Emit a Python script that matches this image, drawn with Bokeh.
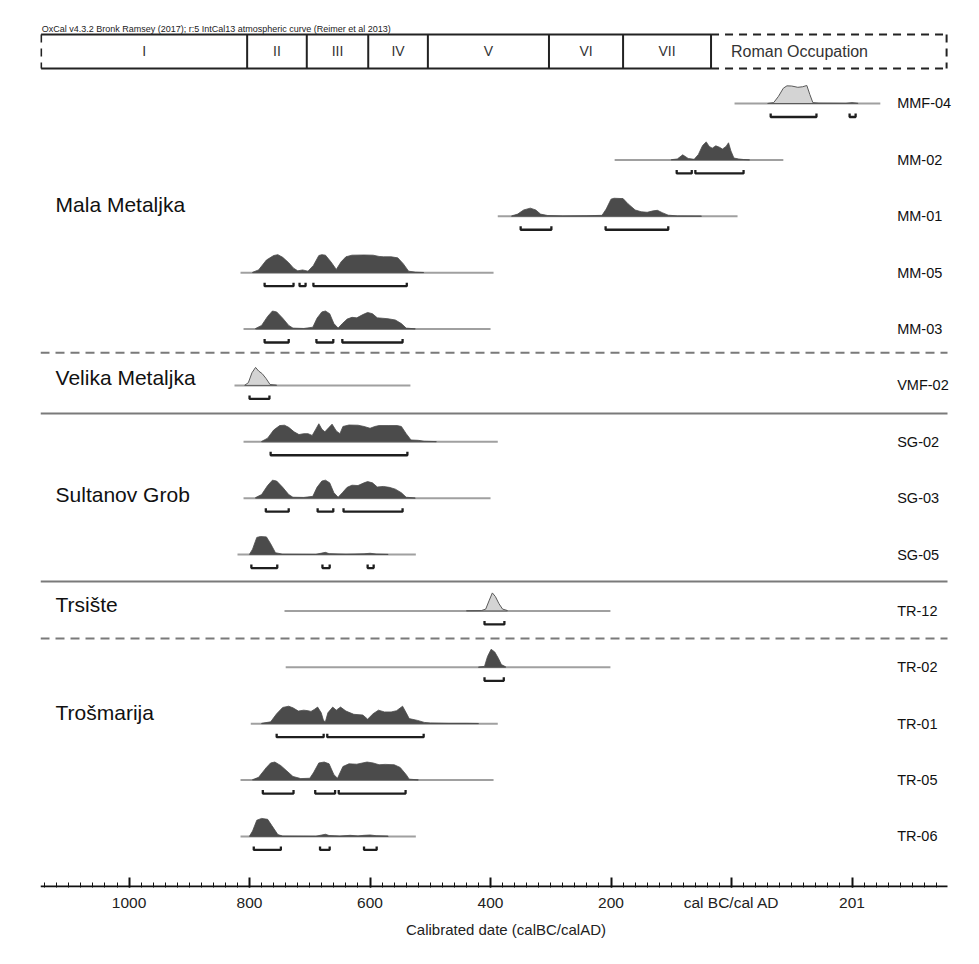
from bokeh.plotting import figure
from bokeh.models import Range1d, LinearAxis, FixedTicker, LabelSet, ColumnDataSource
from bokeh.core.properties import value
from bokeh.embed import file_html
from bokeh.resources import INLINE

# ---------------- data (years: BC negative, AD positive) ----------------
credit = "OxCal v4.3.2 Bronk Ramsey (2017); r:5 IntCal13 atmospheric curve (Reimer et al 2013)"
period_names = ["I", "II", "III", "IV", "V", "VI", "VII", "Roman Occupation"]
period_bounds = [-1146, -804, -705, -603, -504, -303, -180, -34, 357]

tick_years = [-1000, -800, -600, -400, -200, 0, 200]
tick_labels = ["1000", "800", "600", "400", "200", "cal BC/cal AD", "201"]
axis_title = "Calibrated date (calBC/calAD)"

group_names = ["Mala Metaljka", "Velika Metaljka", "Sultanov Grob", "Trsište", "Trošmarija"]

MMF04_span = [5, 247]
MMF04_x = [60, 70, 78, 86, 92, 100, 110, 118, 125, 130, 135, 145, 190, 200, 210]
MMF04_p = [0, 0.05, 0.4, 0.85, 0.98, 0.97, 0.9, 0.93, 1.0, 0.5, 0.05, 0.02, 0.01, 0.05, 0.01]
MMF04_hpd = [[65, 141], [196, 206]]

MM02_span = [-194, 86]
MM02_x = [-100, -90, -81, -72, -62, -55, -48, -42, -37, -32, -26, -20, -15, -9, -5, -1, 4, 12, 20, 30]
MM02_p = [0.01, 0.05, 0.28, 0.08, 0.03, 0.3, 0.8, 1.0, 0.75, 0.65, 0.78, 0.7, 0.6, 0.75, 0.95, 0.5, 0.1, 0.05, 0.02, 0]
MM02_hpd = [[-91, -66], [-60, 20]]

MM01_span = [-388, 10]
MM01_x = [-365, -355, -345, -334, -325, -317, -305, -280, -240, -215, -208, -200, -195, -180, -172, -160, -150, -140, -130, -123, -115, -105, -90, -50]
MM01_p = [0.02, 0.12, 0.35, 0.45, 0.35, 0.12, 0.04, 0.02, 0.03, 0.05, 0.4, 0.95, 1.0, 0.98, 0.7, 0.35, 0.25, 0.22, 0.3, 0.33, 0.2, 0.06, 0.02, 0.01]
MM01_hpd = [[-350, -299], [-209, -105]]

MM05_span = [-815, -395]
MM05_x = [-795, -785, -772, -760, -753, -745, -735, -727, -720, -712, -703, -694, -685, -680, -674, -665, -656, -648, -640, -630, -610, -595, -585, -578, -565, -554, -545, -536, -525, -511]
MM05_p = [0.02, 0.15, 0.7, 0.95, 1.0, 0.85, 0.55, 0.25, 0.1, 0.15, 0.08, 0.4, 0.95, 1.0, 0.97, 0.6, 0.18, 0.6, 0.88, 0.97, 0.98, 0.97, 0.9, 0.88, 0.88, 0.82, 0.5, 0.08, 0.03, 0.01]
MM05_hpd = [[-775, -727], [-717, -707], [-694, -539]]

MM03_span = [-810, -400]
MM03_x = [-790, -780, -770, -762, -755, -745, -735, -728, -710, -695, -688, -680, -674, -667, -660, -653, -646, -638, -630, -622, -612, -604, -596, -588, -580, -570, -558, -548, -540, -525]
MM03_p = [0.03, 0.2, 0.7, 1.0, 0.95, 0.6, 0.2, 0.05, 0.03, 0.1, 0.6, 0.95, 1.0, 0.85, 0.3, 0.05, 0.3, 0.55, 0.65, 0.62, 0.8, 0.92, 0.85, 0.62, 0.6, 0.57, 0.5, 0.3, 0.05, 0.01]
MM03_hpd = [[-775, -735], [-689, -661], [-646, -546]]

VMF02_span = [-825, -533]
VMF02_x = [-808, -802, -796, -790, -785, -779, -773, -766, -755]
VMF02_p = [0.01, 0.15, 0.7, 1.0, 0.8, 0.65, 0.4, 0.05, 0.01]
VMF02_hpd = [[-800, -767]]

SG02_span = [-810, -388]
SG02_x = [-780, -770, -760, -750, -742, -735, -726, -718, -710, -703, -696, -690, -685, -680, -675, -668, -663, -656, -650, -645, -635, -620, -610, -600, -592, -585, -570, -555, -548, -540, -532, -520, -510, -490]
SG02_p = [0.02, 0.2, 0.65, 0.9, 0.92, 0.8, 0.55, 0.4, 0.45, 0.45, 0.35, 0.7, 1.0, 0.7, 0.55, 0.8, 0.98, 0.6, 0.45, 0.85, 0.93, 0.92, 0.85, 0.75, 0.85, 0.9, 0.9, 0.9, 0.85, 0.45, 0.1, 0.08, 0.03, 0.01]
SG02_hpd = [[-765, -538]]

SG03_span = [-810, -400]
SG03_x = [-790, -780, -770, -762, -755, -745, -735, -728, -710, -695, -688, -680, -674, -667, -660, -653, -646, -638, -630, -620, -610, -604, -596, -588, -578, -568, -558, -548, -540, -525]
SG03_p = [0.03, 0.2, 0.7, 1.0, 0.95, 0.6, 0.2, 0.05, 0.04, 0.1, 0.6, 0.95, 1.0, 0.85, 0.3, 0.05, 0.3, 0.6, 0.72, 0.7, 0.85, 0.92, 0.85, 0.62, 0.65, 0.6, 0.5, 0.3, 0.05, 0.01]
SG03_hpd = [[-773, -735], [-687, -661], [-644, -546]]

SG05_span = [-820, -524]
SG05_x = [-800, -795, -788, -782, -772, -765, -757, -745, -690, -680, -674, -668, -640, -610, -600, -590, -570]
SG05_p = [0.02, 0.3, 0.95, 1.0, 0.98, 0.6, 0.1, 0.02, 0.01, 0.08, 0.12, 0.05, 0.02, 0.04, 0.07, 0.03, 0.01]
SG05_hpd = [[-797, -754], [-679, -667], [-604, -594]]

TR12_span = [-742, -201]
TR12_x = [-440, -415, -408, -402, -397, -392, -386, -380, -372]
TR12_p = [0.01, 0.02, 0.1, 0.6, 1.0, 0.8, 0.4, 0.1, 0.02]
TR12_hpd = [[-410, -377]]

TR02_span = [-740, -201]
TR02_x = [-420, -410, -405, -399, -393, -387, -382, -375]
TR02_p = [0.01, 0.05, 0.6, 1.0, 0.85, 0.5, 0.15, 0.03]
TR02_hpd = [[-410, -378]]

TR01_span = [-798, -388]
TR01_x = [-780, -765, -755, -745, -735, -728, -719, -710, -703, -698, -692, -687, -681, -677, -674, -670, -662, -656, -649, -640, -627, -612, -604, -595, -586, -576, -565, -556, -546, -540, -535, -521, -510, -500, -470, -440, -420]
TR01_p = [0.02, 0.1, 0.55, 0.9, 0.97, 0.88, 0.7, 0.75, 0.72, 0.68, 0.8, 0.92, 0.6, 0.15, 0.12, 0.6, 0.92, 0.75, 0.92, 0.7, 0.52, 0.48, 0.25, 0.55, 0.75, 0.65, 0.65, 0.72, 0.97, 0.6, 0.28, 0.18, 0.07, 0.04, 0.02, 0.02, 0.01]
TR01_hpd = [[-755, -677], [-671, -511]]

TR05_span = [-815, -395]
TR05_x = [-795, -785, -772, -765, -758, -748, -738, -728, -715, -700, -694, -685, -676, -668, -660, -654, -645, -635, -622, -605, -595, -585, -575, -560, -550, -540, -535, -520]
TR05_p = [0.02, 0.15, 0.7, 0.95, 1.0, 0.8, 0.5, 0.2, 0.08, 0.1, 0.4, 0.95, 1.0, 0.9, 0.3, 0.1, 0.75, 0.9, 0.88, 1.0, 0.95, 0.85, 0.87, 0.85, 0.7, 0.3, 0.05, 0.01]
TR05_hpd = [[-778, -727], [-691, -658], [-652, -541]]

TR06_span = [-815, -524]
TR06_x = [-800, -795, -788, -780, -770, -763, -753, -745, -690, -680, -674, -668, -650, -633, -620, -610, -600, -590, -570]
TR06_p = [0.02, 0.3, 0.9, 1.0, 0.95, 0.6, 0.1, 0.02, 0.01, 0.08, 0.12, 0.05, 0.02, 0.06, 0.03, 0.06, 0.08, 0.04, 0.02]
TR06_hpd = [[-793, -748], [-683, -667], [-610, -589]]

sample_names = ["MMF-04", "MM-02", "MM-01", "MM-05", "MM-03", "VMF-02", "SG-02", "SG-03",
                "SG-05", "TR-12", "TR-02", "TR-01", "TR-05", "TR-06"]
sample_spans = [MMF04_span, MM02_span, MM01_span, MM05_span, MM03_span, VMF02_span, SG02_span,
                SG03_span, SG05_span, TR12_span, TR02_span, TR01_span, TR05_span, TR06_span]
sample_x = [MMF04_x, MM02_x, MM01_x, MM05_x, MM03_x, VMF02_x, SG02_x, SG03_x, SG05_x,
            TR12_x, TR02_x, TR01_x, TR05_x, TR06_x]
sample_p = [MMF04_p, MM02_p, MM01_p, MM05_p, MM03_p, VMF02_p, SG02_p, SG03_p, SG05_p,
            TR12_p, TR02_p, TR01_p, TR05_p, TR06_p]
sample_hpd = [MMF04_hpd, MM02_hpd, MM01_hpd, MM05_hpd, MM03_hpd, VMF02_hpd, SG02_hpd,
              SG03_hpd, SG05_hpd, TR12_hpd, TR02_hpd, TR01_hpd, TR05_hpd, TR06_hpd]
light_samples = ["MMF-04", "VMF-02", "TR-12"]

# ---------------- layout (row units, 1 row = 56.4 px) ----------------
ROW_PX = 56.38
def px(v):
    return v / ROW_PX

H = px(18)            # peak height
BR = px(13.5)         # bracket offset
BT = px(3.5)          # bracket tip
group_rows = [1.79, 4.86, 6.93, 8.89, 10.8]
separators = [(4.42, "dashed"), (5.5, "solid"), (8.48, "solid"), (9.49, "dashed")]
hdr_top, hdr_bot = -1.224, -0.621
hdr_mid = (hdr_top + hdr_bot) / 2
xmin, xmax = -1147, 358.5          # extent of the time axis
YRS_PER_PX = (xmax - xmin) / 907.0
frame_w = 931
xframe = xmin + frame_w * YRS_PER_PX  # frame extends beyond axis so labels fit
ybot = 13.906
label_x = 275

FONT = "Liberation Sans"

p = figure(width=971, height=956, output_backend="svg", toolbar_location=None,
           x_range=Range1d(xmin, xframe), y_range=Range1d(ybot, -1.685),
           x_axis_location=None, y_axis_location=None,
           min_border_left=40, min_border_right=0, min_border_top=8, min_border_bottom=69)
p.grid.visible = False
p.outline_line_color = None
p.background_fill_color = "white"
p.border_fill_color = "white"

# separators
for yy, style in separators:
    p.line([xmin, xmax], [yy, yy], line_color="#7a7a7a", line_width=2,
           line_dash=("9 6" if style == "dashed" else "solid"))

# header boxes
p.text([xmin + 2], [-1.33], text=[credit], text_font=value(FONT), text_font_size="9px",
       text_baseline="middle", text_align="left", text_color="#222")
lo, hi = period_bounds[0], period_bounds[-2]
p.multi_line([[lo, hi], [lo, hi]], [[hdr_top, hdr_top], [hdr_bot, hdr_bot]], line_color="#222", line_width=2)
p.multi_line([[b, b] for b in period_bounds[1:-1]], [[hdr_top, hdr_bot]] * (len(period_bounds) - 2),
             line_color="#222", line_width=2)
p.line([lo, lo], [hdr_top, hdr_bot], line_color="#222", line_width=2, line_dash="8 6")
r_lo, r_hi = period_bounds[-2], period_bounds[-1]
p.multi_line([[r_lo, r_hi], [r_lo, r_hi], [r_hi, r_hi]],
             [[hdr_top, hdr_top], [hdr_bot, hdr_bot], [hdr_top, hdr_bot]],
             line_color="#222", line_width=2, line_dash="8 6")
mids = [(period_bounds[i] + period_bounds[i + 1]) / 2 for i in range(len(period_names) - 1)]
p.text(mids, [hdr_mid] * len(mids), text=period_names[:-1], text_font=value(FONT),
       text_font_size="14px", text_baseline="middle", text_align="center", text_color="#333")
p.text([r_lo], [hdr_mid], text=[period_names[-1]], text_font=value(FONT), x_offset=20,
       text_font_size="16px", text_baseline="middle", text_align="left", text_color="#333")

# baselines
p.segment(x0=[s[0] for s in sample_spans], x1=[s[1] for s in sample_spans],
          y0=list(range(len(sample_names))), y1=list(range(len(sample_names))),
          line_color="#a0a0a0", line_width=2)

# distributions
for kind in ("dark", "light"):
    xs, ys = [], []
    for i, name in enumerate(sample_names):
        if (name in light_samples) != (kind == "light"):
            continue
        xx = [sample_x[i][0]] + list(sample_x[i]) + [sample_x[i][-1]]
        yv = [i] + [i - v * H for v in sample_p[i]] + [i]
        xs.append(xx)
        ys.append(yv)
    if kind == "dark":
        p.patches(xs, ys, fill_color="#4b4b4b", line_color="#4b4b4b", line_width=0.8)
    else:
        p.patches(xs, ys, fill_color="#d4d4d4", line_color="#5a5a5a", line_width=1)

# HPD brackets
bx, by = [], []
for i, ranges in enumerate(sample_hpd):
    for a, b in ranges:
        bx.append([a, a, b, b])
        by.append([i + BR - BT, i + BR, i + BR, i + BR - BT])
p.multi_line(bx, by, line_color="#1e1e1e", line_width=2.3)

# sample labels
lab_src = ColumnDataSource(dict(x=[label_x] * len(sample_names),
                                y=list(range(len(sample_names))), text=sample_names))
p.add_layout(LabelSet(x="x", y="y", text="text", source=lab_src, level="overlay",
                      text_font=value(FONT), text_font_size=value("14.5px"),
                      text_baseline="middle", text_align="left", text_color="#111"))
p.text([-1122] * len(group_names), group_rows, text=group_names, text_font=value(FONT),
       text_font_size="21px", text_baseline="middle", text_align="left", text_color="#111")

# axis line limited to the time range
p.segment(x0=[xmin], x1=[xmax], y0=[ybot - px(1)], y1=[ybot - px(1)], line_color="#111", line_width=2)

# axis (ticks and labels)
ax = LinearAxis(ticker=FixedTicker(ticks=tick_years, minor_ticks=list(range(-1140, 359, 20))),
                major_label_overrides={t: l for t, l in zip(tick_years, tick_labels)})
ax.axis_label = axis_title
ax.axis_label_text_font = FONT
ax.axis_label_text_font_size = "15px"
ax.axis_label_text_font_style = "normal"
ax.axis_label_text_color = "#222"
ax.axis_label_standoff = 7
ax.major_label_text_font = FONT
ax.major_label_text_font_size = "15.5px"
ax.major_label_text_color = "#222"
ax.major_label_standoff = 6
ax.axis_line_color = None
ax.major_tick_in = 10
ax.major_tick_out = 0
ax.minor_tick_in = 5
ax.minor_tick_out = 0
ax.major_tick_line_width = 2
ax.major_tick_line_color = "#111"
ax.minor_tick_line_width = 1
ax.minor_tick_line_color = "#111"
p.add_layout(ax, "below")

open("out.html", "w").write(file_html(p, INLINE))
